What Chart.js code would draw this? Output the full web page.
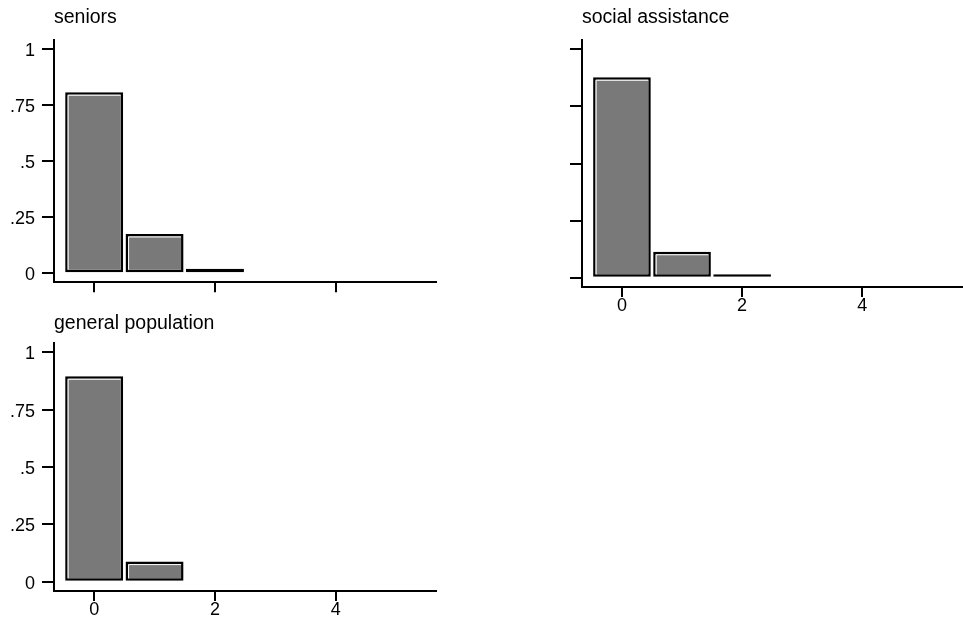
<!DOCTYPE html>
<html><head><meta charset="utf-8">
<script src="https://cdn.jsdelivr.net/npm/chart.js@4.4.1/dist/chart.umd.min.js"></script>
<style>
html,body{margin:0;padding:0;background:#fff;width:963px;height:621px;overflow:hidden}
canvas{position:absolute}
</style></head><body>
<canvas id="c1" width="450" height="300" style="left:0px;top:0px"></canvas>
<canvas id="c2" width="443" height="330" style="left:520px;top:0px"></canvas>
<canvas id="c3" width="450" height="321" style="left:0px;top:300px"></canvas>
<script>
// ---- data ----
const categories = [0, 1, 2];
const seniors = [0.807, 0.175, 0.02];
const socialAssistance = [0.877, 0.114, 0.016];
const generalPopulation = [0.895, 0.088, 0];
const yTickValues = [0, 0.25, 0.5, 0.75, 1];
const yTickLabels = ['0', '.25', '.5', '.75', '1'];
const xTickValues = [0, 2, 4];
const xTickLabels = ['0', '2', '4'];
const panelTitles = ['seniors', 'social assistance', 'general population'];

const FONT = '"Liberation Sans", Arial, Helvetica, sans-serif';
const GRAY = '#797979';
const XMIN = -0.665, XMAX = 5.66, YMIN = -0.04, YMAX = 1.04;
const TITLE_SIZE = 19.5, TICK_SIZE = 18;
const BW = 2.5;

const insetPlugin = {
  id: 'inset',
  afterDatasetsDraw(chart) {
    const ctx = chart.ctx;
    chart.getDatasetMeta(0).data.forEach(el => {
      const p = el.getProps(['x', 'y', 'base', 'width'], true);
      const h = p.base - p.y;
      if (h < 7) return;
      const l = p.x - p.width / 2;
      ctx.save();
      ctx.strokeStyle = '#fff';
      ctx.lineWidth = 1;
      ctx.beginPath();
      ctx.moveTo(l + BW + 0.5, p.base - BW);
      ctx.lineTo(l + BW + 0.5, p.y + BW + 0.5);
      ctx.lineTo(l + p.width - BW, p.y + BW + 0.5);
      ctx.stroke();
      ctx.restore();
    });
  }
};

function makePanel(id, title, values, showX, showY, area, titleTop) {
  const canvas = document.getElementById(id);
  const W = canvas.width, H = canvas.height;
  const lh = TITLE_SIZE * 1.2;
  new Chart(canvas, {
    type: 'bar',
    data: {
      datasets: [{
        data: categories.map((c, i) => ({ x: c, y: values[i] })),
        backgroundColor: GRAY,
        borderColor: '#000',
        borderWidth: BW,
        borderSkipped: false,
        barPercentage: 0.96,
        categoryPercentage: 1
      }]
    },
    options: {
      responsive: false,
      animation: false,
      events: [],
      layout: { padding: { left: 0, right: W - area.right, top: 0, bottom: 0 } },
      plugins: {
        legend: { display: false },
        tooltip: { enabled: false },
        title: {
          display: true, text: title, align: 'start', fullSize: false, color: '#000',
          font: { family: FONT, size: TITLE_SIZE, weight: 'normal', lineHeight: 1.2 },
          padding: { top: titleTop, bottom: area.top - titleTop - lh }
        }
      },
      scales: {
        x: {
          type: 'linear', min: XMIN, max: XMAX, offset: false,
          afterBuildTicks: s => { s.ticks = xTickValues.map(v => ({ value: v })); },
          afterFit: s => { s.height = H - area.bottom; },
          grid: { offset: false, drawOnChartArea: false, drawTicks: true, tickLength: 10, color: '#000', lineWidth: 2 },
          border: { display: true, color: '#000', width: 2 },
          ticks: {
            autoSkip: false, maxRotation: 0, padding: -2, color: '#000',
            font: { family: FONT, size: TICK_SIZE },
            callback: v => showX ? xTickLabels[xTickValues.indexOf(v)] : ''
          }
        },
        y: {
          min: YMIN, max: YMAX,
          afterBuildTicks: s => { s.ticks = yTickValues.map(v => ({ value: v })); },
          afterFit: s => { s.width = area.left; },
          grid: { offset: false, drawOnChartArea: false, drawTicks: true, tickLength: 12, color: '#000', lineWidth: 2 },
          border: { display: true, color: '#000', width: 2 },
          ticks: {
            padding: 7, labelOffset: 2, color: '#000',
            font: { family: FONT, size: TICK_SIZE },
            callback: v => showY ? yTickLabels[yTickValues.indexOf(v)] : ''
          }
        }
      }
    },
    plugins: [insetPlugin]
  });
}

makePanel('c1', panelTitles[0], seniors, false, true, { left: 54, right: 436, top: 40, bottom: 286 }, 6);
makePanel('c2', panelTitles[1], socialAssistance, true, false, { left: 62, right: 442, top: 40, bottom: 287 }, 6);
makePanel('c3', panelTitles[2], generalPopulation, true, true, { left: 54, right: 436, top: 43, bottom: 291 }, 12);
</script>
</body></html>
